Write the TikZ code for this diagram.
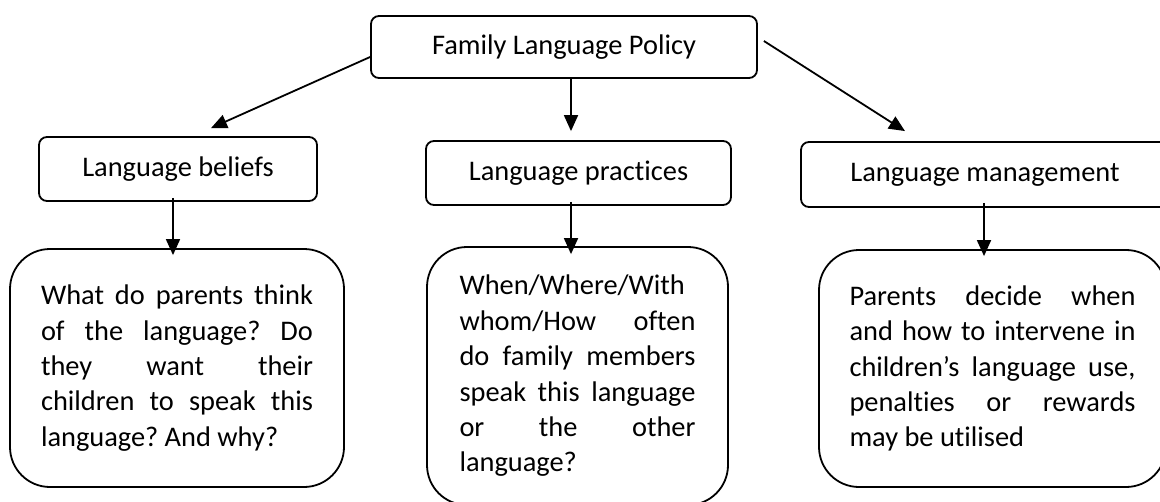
\documentclass[tikz,border=0pt]{standalone}
\usepackage{fontspec}
\setmainfont{Carlito}[Ligatures={TeX,NoCommon}]
\usetikzlibrary{arrows.meta}

\tikzset{
  fbox/.style={draw, line width=0.9pt, rounded corners=4pt, inner sep=0pt,
    font=\fontsize{14.2}{17.6}\selectfont},
  qbox/.style={draw, line width=0.9pt, rounded corners=20pt, inner sep=0pt,
    align=justify, font=\fontsize{14.2}{17.7}\selectfont,
    execute at begin node={\parindent=0pt\relax\hyphenpenalty=10000\relax\frenchspacing}},
  farrow/.style={line width=0.9pt, -{Triangle[width=7pt,length=8pt]}}
}

\begin{document}
\begin{tikzpicture}[x=0.5pt,y=0.5pt,yscale=-1,xscale=1]
\useasboundingbox (0,0) rectangle (1160,502);
\clip (0,0) rectangle (1160,502);

% Top box
\node [fbox, minimum width=193pt, minimum height=31pt] (flp) at (564,47) {Family Language Policy};

% Second row
\node [fbox, minimum width=139pt, minimum height=32pt] (beliefs) at (178,169) {Language beliefs};
\node [fbox, minimum width=152.5pt, minimum height=32pt] (practices) at (578.5,173) {Language practices};
\node [fbox, minimum width=184pt, minimum height=32.5pt] (management) at (985,174.5) {Language management};

% Third row
\node [qbox, minimum width=167pt, minimum height=119pt, text width=136pt] (beliefsq) at (177,368)
  {What do parents think\linebreak of the language? Do\linebreak they want their\linebreak children to speak this\linebreak language? And why?};
\node [qbox, minimum width=150.5pt, minimum height=129pt, text width=118pt] (practicesq) at (577.5,376)
  {When/Where/With\linebreak whom/How often\linebreak do family members\linebreak speak this language\linebreak or the other\linebreak language?};
\node [qbox, minimum width=173.5pt, minimum height=118.5pt, text width=143pt] (managementq) at (992.5,368.5)
  {Parents decide when\linebreak and how to intervene in\linebreak children’s language use,\linebreak penalties or rewards\linebreak may be utilised};

% Arrows from top box
\draw [farrow] ([yshift=5pt]flp.west) -- ([xshift=16.5pt,yshift=-4pt]beliefs.north);
\draw [farrow] ([xshift=3.5pt]flp.south) -- ([xshift=-3.75pt,yshift=-4.5pt]practices.north);
\draw [farrow] ([xshift=3pt,yshift=-3pt]flp.east) -- ([xshift=-40pt,yshift=-5pt]management.north);

% Arrows to question boxes
\draw [farrow] ([xshift=-2.5pt,yshift=-2pt]beliefs.south) -- ([xshift=-2pt,yshift=3.5pt]beliefsq.north);
\draw [farrow] ([xshift=-3.75pt,yshift=-2pt]practices.south) -- ([xshift=-3.25pt,yshift=4pt]practicesq.north);
\draw [farrow] ([xshift=-0.5pt,yshift=-2.5pt]management.south) -- ([xshift=-4.25pt,yshift=3.5pt]managementq.north);

\end{tikzpicture}
\end{document}
